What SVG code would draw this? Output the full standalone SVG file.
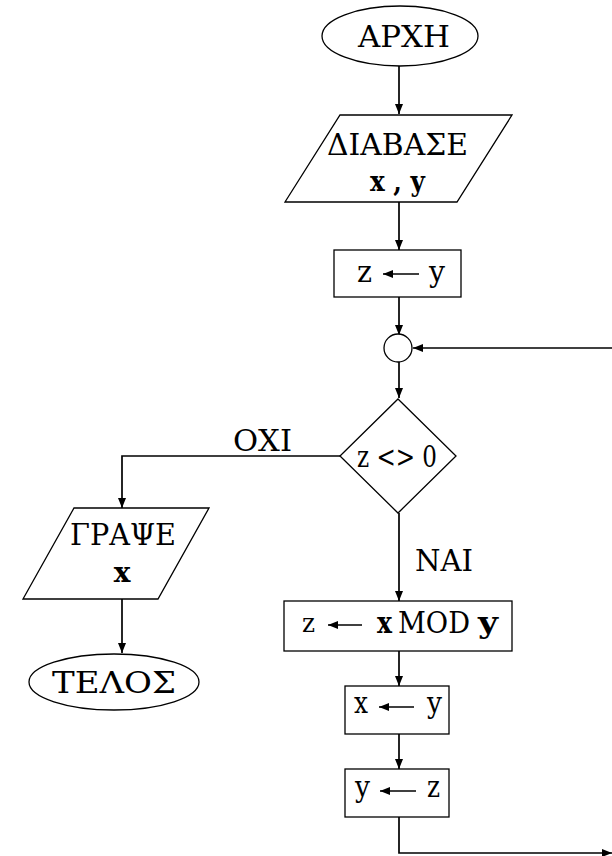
<svg xmlns="http://www.w3.org/2000/svg" width="612" height="856" viewBox="0 0 612 856">
<style>
.s{fill:#fff;stroke:#000;stroke-width:1.3}
.c{fill:none;stroke:#000;stroke-width:1.7}
.t{font-family:"DejaVu Serif","Liberation Serif",serif;font-size:30px;fill:#000}
.m{text-anchor:middle}
.b{font-weight:bold}
.ia{stroke:#000;stroke-width:1.7}
</style>
<defs>
<marker id="ah" markerWidth="10" markerHeight="8" refX="10" refY="4" orient="auto" markerUnits="userSpaceOnUse">
<path d="M0,0 L10,4 L0,8 Z" fill="#000"/>
</marker>
<marker id="sa" markerWidth="10" markerHeight="8" refX="10" refY="4" orient="auto" markerUnits="userSpaceOnUse">
<path d="M0,0 L10,4 L0,8 Z" fill="#000"/>
</marker>
</defs>

<g id="connectors">
<path class="c" d="M399,66 V114" marker-end="url(#ah)"/>
<path class="c" d="M399,202 V250" marker-end="url(#ah)"/>
<path class="c" d="M399,297 V335" marker-end="url(#ah)"/>
<path class="c" d="M399,362 V398" marker-end="url(#ah)"/>
<path class="c" d="M340,456 H122 V508" marker-end="url(#ah)"/>
<path class="c" d="M122,599 V653" marker-end="url(#ah)"/>
<path class="c" d="M399,513 V601" marker-end="url(#ah)"/>
<path class="c" d="M399,651 V686" marker-end="url(#ah)"/>
<path class="c" d="M399,734 V769" marker-end="url(#ah)"/>
<path class="c" d="M399,817 V853 H612" marker-end="url(#ah)"/>
<path class="c" d="M612,348 H413" marker-end="url(#ah)"/>
<text class="t" x="233" y="451" textLength="59" lengthAdjust="spacingAndGlyphs">ΟΧΙ</text>
<text class="t" x="415" y="571" textLength="58" lengthAdjust="spacingAndGlyphs">ΝΑΙ</text>
</g>

<g id="start">
<ellipse class="s" cx="400" cy="36" rx="78" ry="30"/>
<text class="t" x="358" y="47" textLength="92" lengthAdjust="spacingAndGlyphs">ΑΡΧΗ</text>
</g>

<g id="read">
<polygon class="s" points="340,115 512,115 457,202 285,202"/>
<text class="t" x="327" y="155" textLength="141" lengthAdjust="spacingAndGlyphs">ΔΙΑΒΑΣΕ</text>
<text class="t b" x="370" y="191" style="font-size:28px" textLength="55" lengthAdjust="spacingAndGlyphs">x , y</text>
</g>

<g id="assign1">
<rect class="s" x="334" y="250" width="127" height="47"/>
<text class="t" x="357" y="282" textLength="15" lengthAdjust="spacingAndGlyphs">z</text>
<line class="ia" x1="419" y1="274" x2="383" y2="274" marker-end="url(#sa)"/>
<text class="t" x="429" y="282" textLength="16" lengthAdjust="spacingAndGlyphs">y</text>
</g>

<g id="junction">
<circle class="s" cx="398" cy="348" r="14"/>
</g>

<g id="decision">
<polygon class="s" points="398,399 456,456 398,513 340,456"/>
<text class="t" x="357" y="467" textLength="80" lengthAdjust="spacingAndGlyphs">z &lt;&gt; 0</text>
</g>

<g id="write">
<polygon class="s" points="74,508 209,508 158,599 23,599"/>
<text class="t" x="70" y="545" textLength="106" lengthAdjust="spacingAndGlyphs">ΓΡΑΨΕ</text>
<text class="t m b" x="122" y="582" style="font-size:28px">x</text>
</g>

<g id="end">
<ellipse class="s" cx="114" cy="682" rx="85" ry="28"/>
<text class="t" x="52" y="693" textLength="124" lengthAdjust="spacingAndGlyphs">ΤΕΛΟΣ</text>
</g>

<g id="assign-mod">
<rect class="s" x="284" y="601" width="228" height="50"/>
<text class="t" x="302" y="632" style="font-size:26px" textLength="13" lengthAdjust="spacingAndGlyphs">z</text>
<line class="ia" x1="362" y1="625" x2="328" y2="625" marker-end="url(#sa)"/>
<text class="t b" x="377" y="633" textLength="15" lengthAdjust="spacingAndGlyphs">x</text>
<text class="t" x="398" y="633" textLength="72" lengthAdjust="spacingAndGlyphs">MOD</text>
<text class="t b" x="478" y="633" textLength="20" lengthAdjust="spacingAndGlyphs">y</text>
</g>

<g id="assign-x">
<rect class="s" x="345" y="686" width="104" height="48"/>
<text class="t" x="354" y="713" textLength="14" lengthAdjust="spacingAndGlyphs">x</text>
<line class="ia" x1="414" y1="707" x2="379" y2="707" marker-end="url(#sa)"/>
<text class="t" x="427" y="713" textLength="15" lengthAdjust="spacingAndGlyphs">y</text>
</g>

<g id="assign-y">
<rect class="s" x="345" y="769" width="104" height="48"/>
<text class="t" x="355" y="797" textLength="15" lengthAdjust="spacingAndGlyphs">y</text>
<line class="ia" x1="416" y1="791" x2="380" y2="791" marker-end="url(#sa)"/>
<text class="t" x="427" y="797" textLength="13" lengthAdjust="spacingAndGlyphs">z</text>
</g>
</svg>
